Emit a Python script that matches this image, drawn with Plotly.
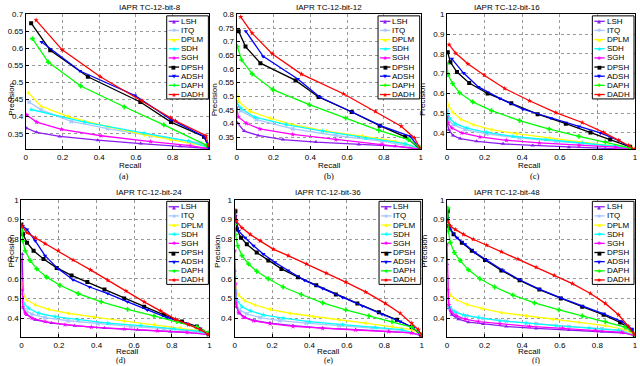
import plotly.graph_objects as go

W, H = 640, 366

methods = ["LSH", "ITQ", "DPLM", "SDH", "SGH", "DPSH", "ADSH", "DAPH", "DADH"]
colors = {"LSH": "#8B1CF0", "ITQ": "#A9C6FF", "DPLM": "#FFFF00", "SDH": "#00FFFF",
          "SGH": "#FF00FF", "DPSH": "#000000", "ADSH": "#0000FF", "DAPH": "#00FF00",
          "DADH": "#FF0000"}
symbols = {"LSH": "triangle-up", "ITQ": "x", "DPLM": "triangle-left", "SDH": "star",
           "SGH": "star", "DPSH": "square", "ADSH": "triangle-down", "DAPH": "cross",
           "DADH": "star"}
legend_glyphs = {"LSH": "▲", "ITQ": "✱", "DPLM": "◀", "SDH": "✱", "SGH": "✱",
                 "DPSH": "■", "ADSH": "▼", "DAPH": "✚", "DADH": "✱"}

titles = ["IAPR TC-12-bit-8", "IAPR TC-12-bit-12", "IAPR TC-12-bit-16",
          "IAPR TC-12-bit-24", "IAPR TC-12-bit-36", "IAPR TC-12-bit-48"]
captions = ["(a)", "(b)", "(c)", "(d)", "(e)", "(f)"]
x_ticks = [0, 0.2, 0.4, 0.6, 0.8, 1]
x_ticktext = ["0", "0.2", "0.4", "0.6", "0.8", "1"]
y_ticks_a = [0.35, 0.4, 0.45, 0.5, 0.55, 0.6, 0.65, 0.7]
y_ticktext_a = ["0.35", "0.4", "0.45", "0.5", "0.55", "0.6", "0.65", "0.7"]
y_ticks_b = [0.35, 0.4, 0.45, 0.5, 0.55, 0.6, 0.65, 0.7, 0.75, 0.8]
y_ticktext_b = ["0.35", "0.4", "0.45", "0.5", "0.55", "0.6", "0.65", "0.7", "0.75", "0.8"]
y_ticks_c = [0.4, 0.5, 0.6, 0.7, 0.8, 0.9, 1]
y_ticktext_c = ["0.4", "0.5", "0.6", "0.7", "0.8", "0.9", "1"]

# ---------------- bit-8 ----------------
recall_8 = {
    "LSH": [0.005, 0.059, 0.185, 0.392, 0.626, 0.842, 0.986],
    "ITQ": [0.018, 0.083, 0.248, 0.446, 0.68, 0.95, 0.995],
    "DPLM": [0.014, 0.083, 0.23, 0.446, 0.644, 0.788, 0.986],
    "SDH": [0.029, 0.32, 0.644, 0.887, 0.99],
    "SGH": [0.005, 0.059, 0.194, 0.41, 0.68, 0.896, 0.986],
    "DPSH": [0.029, 0.133, 0.338, 0.624, 0.791, 0.971, 0.995],
    "ADSH": [0.086, 0.295, 0.595, 0.79, 0.971, 1.0],
    "DAPH": [0.036, 0.122, 0.299, 0.536, 0.752, 0.986],
    "DADH": [0.056, 0.198, 0.406, 0.633, 0.788, 0.815, 0.982, 0.995],
}
precision_8 = {
    "LSH": [0.366, 0.354, 0.342, 0.331, 0.321, 0.313, 0.307],
    "ITQ": [0.443, 0.42, 0.386, 0.365, 0.344, 0.323, 0.311],
    "DPLM": [0.47, 0.431, 0.40, 0.371, 0.347, 0.333, 0.313],
    "SDH": [0.421, 0.384, 0.352, 0.328, 0.311],
    "SGH": [0.405, 0.384, 0.363, 0.344, 0.327, 0.315, 0.307],
    "DPSH": [0.674, 0.595, 0.517, 0.443, 0.384, 0.341, 0.315],
    "ADSH": [0.619, 0.534, 0.462, 0.392, 0.342, 0.306],
    "DAPH": [0.629, 0.56, 0.49, 0.429, 0.376, 0.316],
    "DADH": [0.683, 0.596, 0.517, 0.447, 0.397, 0.388, 0.344, 0.315],
}

# ---------------- bit-12 ----------------
recall_12 = {
    "LSH": [0.004, 0.041, 0.117, 0.251, 0.431, 0.664, 0.862, 0.991],
    "ITQ": [0.0, 0.023, 0.108, 0.305, 0.539, 0.79, 0.987],
    "DPLM": [0.0, 0.014, 0.072, 0.18, 0.305, 0.485, 0.682, 0.862, 0.987],
    "SDH": [0.0, 0.022, 0.099, 0.269, 0.467, 0.70, 0.916, 0.987],
    "SGH": [0.0, 0.009, 0.054, 0.126, 0.305, 0.539, 0.79, 0.987],
    "DPSH": [0.011, 0.048, 0.129, 0.32, 0.445, 0.625, 0.777, 0.916, 0.996],
    "ADSH": [0.05, 0.144, 0.332, 0.451, 0.628, 0.781, 0.943, 0.996],
    "DAPH": [0.004, 0.027, 0.084, 0.197, 0.395, 0.592, 0.772, 0.934, 0.996],
    "DADH": [0.022, 0.084, 0.194, 0.352, 0.58, 0.754, 0.894, 0.966, 0.996],
}
precision_12 = {
    "LSH": [0.402, 0.372, 0.356, 0.341, 0.332, 0.323, 0.317, 0.307],
    "ITQ": [0.48, 0.447, 0.414, 0.38, 0.356, 0.335, 0.311],
    "DPLM": [0.52, 0.479, 0.445, 0.42, 0.396, 0.372, 0.354, 0.335, 0.311],
    "SDH": [0.475, 0.456, 0.423, 0.396, 0.372, 0.347, 0.326, 0.311],
    "SGH": [0.459, 0.424, 0.40, 0.38, 0.36, 0.341, 0.323, 0.307],
    "DPSH": [0.738, 0.682, 0.621, 0.558, 0.497, 0.442, 0.392, 0.351, 0.307],
    "ADSH": [0.738, 0.646, 0.563, 0.497, 0.442, 0.392, 0.353, 0.307],
    "DAPH": [0.682, 0.633, 0.582, 0.524, 0.469, 0.42, 0.375, 0.341, 0.311],
    "DADH": [0.791, 0.731, 0.655, 0.581, 0.509, 0.444, 0.39, 0.347, 0.31],
}

# ---------------- bit-16 ----------------
recall_16 = {
    "LSH": [0.0, 0.009, 0.032, 0.07, 0.158, 0.298, 0.456, 0.649, 0.842, 0.982],
    "ITQ": [0.0, 0.009, 0.032, 0.096, 0.211, 0.386, 0.579, 0.789, 0.982],
    "DPLM": [0.0, 0.009, 0.032, 0.074, 0.14, 0.237, 0.368, 0.544, 0.719, 0.86, 0.982],
    "SDH": [0.0, 0.014, 0.044, 0.105, 0.211, 0.351, 0.526, 0.719, 0.895, 0.982],
    "SGH": [0.0, 0.005, 0.026, 0.079, 0.175, 0.316, 0.491, 0.702, 0.895, 0.982],
    "DPSH": [0.004, 0.018, 0.053, 0.118, 0.216, 0.342, 0.482, 0.632, 0.763, 0.868, 0.974],
    "ADSH": [0.026, 0.088, 0.167, 0.281, 0.404, 0.553, 0.702, 0.816, 0.912, 0.991],
    "DAPH": [0.0, 0.005, 0.03, 0.067, 0.137, 0.237, 0.386, 0.544, 0.702, 0.842, 0.974],
    "DADH": [0.011, 0.047, 0.111, 0.198, 0.307, 0.439, 0.579, 0.719, 0.833, 0.912, 0.965, 0.996],
}
precision_16 = {
    "LSH": [0.458, 0.417, 0.387, 0.372, 0.358, 0.345, 0.337, 0.328, 0.322, 0.317],
    "ITQ": [0.517, 0.467, 0.442, 0.417, 0.395, 0.375, 0.358, 0.342, 0.322],
    "DPLM": [0.567, 0.537, 0.505, 0.47, 0.442, 0.417, 0.397, 0.375, 0.353, 0.338, 0.322],
    "SDH": [0.508, 0.475, 0.447, 0.425, 0.403, 0.383, 0.367, 0.35, 0.333, 0.32],
    "SGH": [0.483, 0.45, 0.425, 0.40, 0.38, 0.363, 0.35, 0.337, 0.328, 0.317],
    "DPSH": [0.808, 0.758, 0.708, 0.653, 0.60, 0.55, 0.495, 0.447, 0.403, 0.367, 0.33],
    "ADSH": [0.775, 0.703, 0.633, 0.575, 0.52, 0.475, 0.433, 0.40, 0.363, 0.317],
    "DAPH": [0.75, 0.695, 0.65, 0.603, 0.557, 0.513, 0.463, 0.42, 0.383, 0.355, 0.325],
    "DADH": [0.847, 0.803, 0.75, 0.692, 0.625, 0.563, 0.503, 0.453, 0.403, 0.363, 0.337, 0.317],
}

# ---------------- bit-24 ----------------
recall_24 = {
    "LSH": [0.004, 0.007, 0.012, 0.03, 0.074, 0.161, 0.284, 0.442, 0.618, 0.793, 0.933, 0.995],
    "ITQ": [0.004, 0.018, 0.056, 0.126, 0.249, 0.407, 0.582, 0.758, 0.916, 0.995],
    "DPLM": [0.004, 0.009, 0.03, 0.074, 0.144, 0.249, 0.389, 0.547, 0.705, 0.846, 0.968, 0.995],
    "SDH": [0.004, 0.012, 0.039, 0.091, 0.179, 0.302, 0.46, 0.635, 0.811, 0.951, 0.995],
    "SGH": [0.0, 0.004, 0.007, 0.021, 0.056, 0.126, 0.232, 0.372, 0.547, 0.723, 0.881, 0.995],
    "DPSH": [0.0, 0.009, 0.03, 0.065, 0.118, 0.188, 0.267, 0.351, 0.442, 0.547, 0.653, 0.758, 0.854, 0.933, 0.995],
    "ADSH": [0.007, 0.03, 0.074, 0.126, 0.196, 0.275, 0.363, 0.46, 0.565, 0.67, 0.775, 0.881, 0.951, 0.995],
    "DAPH": [0.004, 0.007, 0.021, 0.047, 0.082, 0.135, 0.205, 0.302, 0.425, 0.565, 0.705, 0.828, 0.933, 0.995],
    "DADH": [0.004, 0.03, 0.074, 0.126, 0.196, 0.275, 0.368, 0.46, 0.556, 0.653, 0.74, 0.819, 0.889, 0.951, 0.995],
}
precision_24 = {
    "LSH": [0.725, 0.525, 0.45, 0.417, 0.392, 0.375, 0.362, 0.35, 0.342, 0.333, 0.325, 0.317],
    "ITQ": [0.483, 0.442, 0.42, 0.403, 0.387, 0.372, 0.358, 0.347, 0.333, 0.317],
    "DPLM": [0.575, 0.525, 0.492, 0.467, 0.445, 0.425, 0.405, 0.385, 0.367, 0.35, 0.333, 0.317],
    "SDH": [0.525, 0.475, 0.45, 0.425, 0.408, 0.392, 0.375, 0.362, 0.347, 0.333, 0.317],
    "SGH": [0.692, 0.542, 0.458, 0.425, 0.40, 0.383, 0.367, 0.355, 0.345, 0.337, 0.328, 0.317],
    "DPSH": [0.875, 0.825, 0.783, 0.742, 0.70, 0.655, 0.617, 0.583, 0.545, 0.50, 0.458, 0.417, 0.383, 0.358, 0.322],
    "ADSH": [0.867, 0.85, 0.792, 0.717, 0.65, 0.595, 0.558, 0.525, 0.483, 0.442, 0.403, 0.372, 0.348, 0.317],
    "DAPH": [0.842, 0.792, 0.742, 0.692, 0.65, 0.608, 0.567, 0.525, 0.483, 0.445, 0.412, 0.383, 0.355, 0.325],
    "DADH": [0.867, 0.833, 0.808, 0.778, 0.742, 0.695, 0.645, 0.592, 0.538, 0.483, 0.437, 0.395, 0.367, 0.342, 0.317],
}

# ---------------- bit-36 ----------------
recall_36 = {
    "LSH": [0.0, 0.004, 0.009, 0.026, 0.056, 0.109, 0.189, 0.312, 0.471, 0.647, 0.824, 0.947, 1.0],
    "ITQ": [0.0, 0.007, 0.026, 0.065, 0.136, 0.242, 0.383, 0.559, 0.735, 0.894, 1.0],
    "DPLM": [0.0, 0.004, 0.021, 0.056, 0.109, 0.189, 0.295, 0.418, 0.559, 0.70, 0.841, 0.947, 1.0],
    "SDH": [0.0, 0.004, 0.012, 0.039, 0.083, 0.153, 0.259, 0.40, 0.577, 0.753, 0.894, 1.0],
    "SGH": [0.0, 0.004, 0.007, 0.021, 0.048, 0.101, 0.189, 0.312, 0.471, 0.647, 0.824, 0.947, 1.0],
    "DPSH": [0.004, 0.012, 0.034, 0.065, 0.118, 0.18, 0.25, 0.339, 0.436, 0.541, 0.656, 0.771, 0.868, 0.947, 0.996],
    "ADSH": [0.004, 0.021, 0.056, 0.101, 0.153, 0.215, 0.286, 0.374, 0.471, 0.577, 0.683, 0.788, 0.885, 0.956, 1.0],
    "DAPH": [0.0, 0.004, 0.016, 0.039, 0.074, 0.118, 0.18, 0.259, 0.356, 0.471, 0.594, 0.718, 0.841, 0.947, 1.0],
    "DADH": [0.0, 0.009, 0.039, 0.083, 0.136, 0.206, 0.286, 0.383, 0.489, 0.594, 0.70, 0.806, 0.885, 0.947, 0.982, 1.0],
}
precision_36 = {
    "LSH": [0.642, 0.525, 0.458, 0.425, 0.403, 0.387, 0.375, 0.362, 0.35, 0.342, 0.333, 0.325, 0.312],
    "ITQ": [0.525, 0.475, 0.442, 0.422, 0.403, 0.388, 0.375, 0.362, 0.35, 0.338, 0.312],
    "DPLM": [0.625, 0.558, 0.517, 0.488, 0.467, 0.445, 0.425, 0.408, 0.392, 0.375, 0.358, 0.342, 0.317],
    "SDH": [0.608, 0.542, 0.492, 0.458, 0.437, 0.417, 0.40, 0.383, 0.367, 0.353, 0.342, 0.312],
    "SGH": [0.742, 0.575, 0.475, 0.428, 0.405, 0.387, 0.372, 0.358, 0.348, 0.34, 0.332, 0.325, 0.312],
    "DPSH": [0.942, 0.85, 0.808, 0.775, 0.733, 0.692, 0.65, 0.608, 0.567, 0.52, 0.475, 0.43, 0.392, 0.355, 0.317],
    "ADSH": [0.917, 0.842, 0.808, 0.767, 0.725, 0.683, 0.642, 0.592, 0.55, 0.505, 0.462, 0.42, 0.383, 0.35, 0.312],
    "DAPH": [0.875, 0.825, 0.767, 0.717, 0.675, 0.638, 0.60, 0.558, 0.52, 0.478, 0.442, 0.412, 0.383, 0.355, 0.317],
    "DADH": [0.95, 0.892, 0.858, 0.825, 0.792, 0.75, 0.717, 0.675, 0.628, 0.583, 0.533, 0.475, 0.425, 0.375, 0.342, 0.312],
}

# ---------------- bit-48 ----------------
recall_48 = {
    "LSH": [0.0, 0.004, 0.009, 0.026, 0.061, 0.114, 0.193, 0.316, 0.474, 0.649, 0.825, 0.947, 1.0],
    "ITQ": [0.0, 0.004, 0.018, 0.049, 0.105, 0.193, 0.316, 0.474, 0.649, 0.825, 0.947, 1.0],
    "DPLM": [0.0, 0.004, 0.018, 0.053, 0.105, 0.184, 0.289, 0.421, 0.561, 0.702, 0.842, 0.947, 1.0],
    "SDH": [0.0, 0.004, 0.014, 0.039, 0.088, 0.167, 0.281, 0.421, 0.579, 0.754, 0.912, 1.0],
    "SGH": [0.0, 0.004, 0.009, 0.021, 0.049, 0.096, 0.167, 0.281, 0.439, 0.614, 0.789, 0.93, 1.0],
    "DPSH": [0.004, 0.009, 0.035, 0.079, 0.132, 0.202, 0.289, 0.386, 0.491, 0.605, 0.719, 0.833, 0.921, 0.982, 1.0],
    "ADSH": [0.004, 0.018, 0.053, 0.096, 0.149, 0.211, 0.298, 0.386, 0.491, 0.605, 0.719, 0.833, 0.93, 0.982, 1.0],
    "DAPH": [0.004, 0.007, 0.018, 0.039, 0.07, 0.114, 0.175, 0.254, 0.351, 0.465, 0.596, 0.719, 0.842, 0.947, 1.0],
    "DADH": [0.004, 0.018, 0.044, 0.088, 0.14, 0.211, 0.289, 0.377, 0.474, 0.57, 0.667, 0.763, 0.842, 0.912, 0.965, 0.996],
}
precision_48 = {
    "LSH": [0.675, 0.525, 0.45, 0.417, 0.395, 0.38, 0.37, 0.358, 0.348, 0.34, 0.332, 0.325, 0.312],
    "ITQ": [0.525, 0.475, 0.45, 0.428, 0.412, 0.398, 0.385, 0.372, 0.358, 0.347, 0.337, 0.312],
    "DPLM": [0.625, 0.558, 0.517, 0.492, 0.47, 0.45, 0.428, 0.412, 0.395, 0.378, 0.362, 0.342, 0.312],
    "SDH": [0.575, 0.508, 0.458, 0.433, 0.417, 0.403, 0.388, 0.375, 0.362, 0.35, 0.338, 0.312],
    "SGH": [0.775, 0.542, 0.467, 0.433, 0.412, 0.395, 0.383, 0.372, 0.358, 0.348, 0.338, 0.328, 0.312],
    "DPSH": [0.942, 0.867, 0.825, 0.783, 0.742, 0.695, 0.642, 0.592, 0.545, 0.50, 0.458, 0.417, 0.378, 0.342, 0.312],
    "ADSH": [0.908, 0.85, 0.808, 0.775, 0.733, 0.695, 0.642, 0.595, 0.547, 0.503, 0.462, 0.422, 0.383, 0.345, 0.312],
    "DAPH": [0.958, 0.842, 0.783, 0.733, 0.692, 0.645, 0.60, 0.558, 0.517, 0.478, 0.442, 0.412, 0.383, 0.355, 0.317],
    "DADH": [0.892, 0.867, 0.85, 0.825, 0.80, 0.77, 0.737, 0.70, 0.658, 0.617, 0.575, 0.525, 0.475, 0.417, 0.358, 0.317],
}

panels = [
    (recall_8, precision_8, [0.304, 0.7], y_ticks_a, y_ticktext_a),
    (recall_12, precision_12, [0.305, 0.8], y_ticks_b, y_ticktext_b),
    (recall_16, precision_16, [0.317, 1.0], y_ticks_c, y_ticktext_c),
    (recall_24, precision_24, [0.303, 1.0], y_ticks_c, y_ticktext_c),
    (recall_36, precision_36, [0.303, 1.0], y_ticks_c, y_ticktext_c),
    (recall_48, precision_48, [0.303, 1.0], y_ticks_c, y_ticktext_c),
]

# plot-area boxes in pixels (left, right, top, bottom)
boxes = [
    (24, 209, 10.5, 147),
    (236.5, 422, 10.5, 147),
    (448.5, 638, 10.5, 147),
    (19.5, 209, 198, 337),
    (234.5, 423, 198, 337),
    (448.5, 638, 198, 337),
]
ylab_x = [4, 214.5, 429.5, 4, 216.5, 430.5]


def px(x):
    return x / W


def py(y):
    return 1 - y / H


fig = go.Figure()
sans = "Liberation Sans, Arial"
tick_font = dict(family=sans, size=8, color="black")
annotations = []
shapes = []

for i, (rec, prec, yr, yt, ytt) in enumerate(panels):
    n = i + 1
    xa = "x" if n == 1 else f"x{n}"
    ya = "y" if n == 1 else f"y{n}"
    for m in methods:
        fig.add_trace(go.Scatter(
            x=rec[m], y=prec[m], mode="lines+markers", name=m,
            line=dict(color=colors[m], width=1.3),
            marker=dict(symbol=symbols[m], size=4, color=colors[m], line=dict(width=0)),
            xaxis=xa, yaxis=ya, showlegend=False,
        ))
    l, r, t, b = boxes[i]
    common = dict(showline=True, mirror=True, linecolor="black", linewidth=1,
                  ticks="inside", ticklen=3, tickcolor="black",
                  showgrid=True, griddash="dot", gridcolor="#9a9a9a", gridwidth=1,
                  zeroline=False, tickfont=tick_font)
    fig.layout["xaxis" if n == 1 else f"xaxis{n}"] = dict(
        domain=[px(l), px(r)], range=[0, 1], tickvals=x_ticks, ticktext=x_ticktext,
        anchor=ya, **common)
    fig.layout["yaxis" if n == 1 else f"yaxis{n}"] = dict(
        domain=[py(b), py(t)], range=yr, tickvals=yt, ticktext=ytt,
        anchor=xa, **common)

    # hand-built legend box (MATLAB-style compact legend)
    lb_r = r - 1
    lb_l = lb_r - 42
    lb_t = t + 1.5
    lb_b = lb_t + 84
    shapes.append(dict(type="rect", xref="paper", yref="paper",
                       x0=px(lb_l), x1=px(lb_r), y0=py(lb_b), y1=py(lb_t),
                       fillcolor="white", line=dict(color="black", width=1), layer="above"))
    for k, m in enumerate(methods):
        ry = lb_t + 5.5 + k * 9.25
        shapes.append(dict(type="line", xref="paper", yref="paper",
                           x0=px(lb_l + 2), x1=px(lb_l + 12.5), y0=py(ry), y1=py(ry),
                           line=dict(color=colors[m], width=1.3), layer="above"))
        annotations.append(dict(x=px(lb_l + 7.2), y=py(ry), xref="paper", yref="paper",
                                text=legend_glyphs[m], showarrow=False, borderpad=0,
                                font=dict(family="DejaVu Sans", size=5, color=colors[m]),
                                xanchor="center", yanchor="middle"))
        annotations.append(dict(x=px(lb_l + 13.5), y=py(ry), xref="paper", yref="paper",
                                text=m, showarrow=False, xanchor="left", yanchor="middle",
                                borderpad=0,
                                font=dict(family=sans, size=8, color="black")))

    cx = (l + r) / 2
    bottom_row = i >= 3
    annotations.append(dict(x=px(cx), y=py(t - 7), xref="paper", yref="paper",
                            text=titles[i], showarrow=False, yanchor="middle", borderpad=0,
                            font=dict(family=sans, size=8, color="black")))
    rec_y = b + 14.5 if bottom_row else b + 16.5
    annotations.append(dict(x=px(cx), y=py(rec_y), xref="paper", yref="paper",
                            text="Recall", showarrow=False, yanchor="middle", borderpad=0,
                            font=dict(family=sans, size=8, color="black")))
    if bottom_row:
        annotations.append(dict(x=px(cx), y=0, xref="paper", yref="paper",
                                text=captions[i], showarrow=False, yanchor="bottom",
                                borderpad=0,
                                font=dict(family="Liberation Serif, Times New Roman", size=8,
                                          color="black")))
    else:
        annotations.append(dict(x=px(cx), y=py(b + 27), xref="paper", yref="paper",
                                text=captions[i], showarrow=False, yanchor="middle",
                                borderpad=0,
                                font=dict(family="Liberation Serif, Times New Roman", size=8.5,
                                          color="black")))
    annotations.append(dict(x=px(ylab_x[i]), y=py((t + b) / 2), xref="paper", yref="paper",
                            text="Precision", showarrow=False, textangle=-90, borderpad=0,
                            font=dict(family=sans, size=8, color="black")))

fig.update_layout(width=W, height=H, margin=dict(l=0, r=0, t=0, b=0),
                  paper_bgcolor="white", plot_bgcolor="white",
                  annotations=annotations, shapes=shapes, showlegend=False)

fig.write_html("out.html", config={"displayModeBar": False},
               post_script="document.body.style.margin='0';document.body.style.padding='0';")
